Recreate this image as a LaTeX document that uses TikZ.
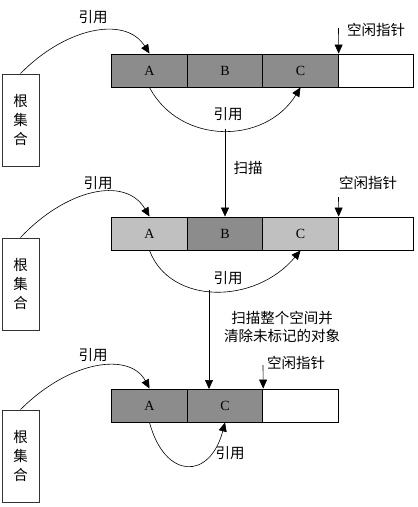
\documentclass[tikz,border=0pt]{standalone}
\usepackage{fontspec}
\setmainfont{Liberation Serif}
\newfontfamily\cjk{Noto Sans CJK SC}
\usetikzlibrary{arrows.meta}
\definecolor{darkcell}{HTML}{8C8C8C}
\definecolor{lightcell}{HTML}{C0C0C0}
\tikzset{
  cell/.style={draw=black, line width=0.9pt, minimum width=75.5pt, minimum height=33pt, inner sep=0pt, font=\fontsize{14}{14}\selectfont},
  darkc/.style={cell, fill=darkcell},
  lightc/.style={cell, fill=lightcell},
  freec/.style={cell, fill=white},
  rootbox/.style={draw=black!80, line width=0.9pt, minimum width=37pt, minimum height=92pt, inner sep=0pt, align=center, font=\cjk\fontsize{14.5}{19}\selectfont},
  lbl/.style={font=\cjk\fontsize{14.5}{18}\selectfont, inner sep=0pt},
  conn/.style={line width=0.6pt, -{Triangle[length=9pt,width=8pt]}},
}
\begin{document}
\begin{tikzpicture}[x=1pt,y=-1pt]
\useasboundingbox (0,0) rectangle (418,507);
% ---------- row 1 ----------
\node[darkc] (a1) at (149.5,70.5) {A};
\node[darkc] (b1) at (225,70.5) {B};
\node[darkc] (c1) at (300.5,70.5) {C};
\node[freec] (f1) at (376,70.5) {};
\node[rootbox] (r1) at (20.5,120) {根\\集\\合};
\node[lbl] (l1a) at (93,17) {引用};
\node[lbl] (l1b) at (228,114) {引用};
\node[lbl] (p1) at (376,30) {空闲指针};
\node[lbl] (s1) at (248,168) {扫描};
\coordinate (pt1) at (338.5,28);
\coordinate (m1) at (225,129);
\draw[conn] (r1.north) .. controls (65,28) and (125,15) .. (a1.north);
\draw[conn] (a1.south) .. controls (180,145) and (265,145) .. (c1.south);
\draw[conn] (pt1) -- (c1.north east);
% ---------- row 2 ----------
\node[lightc] (a2) at (149.5,233.5) {A};
\node[darkc] (b2) at (225,233.5) {B};
\node[lightc] (c2) at (300.5,233.5) {C};
\node[freec] (f2) at (376,233.5) {};
\node[rootbox] (r2) at (20.5,284) {根\\集\\合};
\node[lbl] (l2a) at (98,183) {引用};
\node[lbl] (l2b) at (228,278) {引用};
\node[lbl] (p2) at (368,183) {空闲指针};
\node[lbl, align=center, font=\cjk\fontsize{14.5}{18}\selectfont] (s2) at (282,327) {扫描整个空间并\\清除未标记的对象};
\coordinate (pt2) at (338.5,197);
\coordinate (m2) at (209,290);
\draw[conn] (m1) -- (b2.north);
\draw[conn] (r2.north) .. controls (65,190) and (125,175) .. (a2.north);
\draw[conn] (a2.south) .. controls (170,305) and (255,305) .. (c2.south);
\draw[conn] (pt2) -- (c2.north east);
% ---------- row 3 ----------
\node[darkc] (a3) at (149.5,405.5) {A};
\node[darkc] (c3) at (225,405.5) {C};
\node[freec] (f3) at (300.5,405.5) {};
\node[rootbox] (r3) at (20.5,456) {根\\集\\合};
\node[lbl] (l3a) at (93,355) {引用};
\node[lbl] (l3b) at (230,453) {引用};
\node[lbl] (p3) at (296,363) {空闲指针};
\coordinate (pt3) at (263,365);
\coordinate (t3) at (209,389);
\draw[conn] (m2) -- (t3);
\draw[conn] (r3.north) .. controls (70,360) and (130,352) .. (a3.north);
\draw[conn] (a3.south) .. controls (165,480) and (210,480) .. (c3.south);
\draw[conn] (pt3) -- (c3.north east);
\end{tikzpicture}
\end{document}
